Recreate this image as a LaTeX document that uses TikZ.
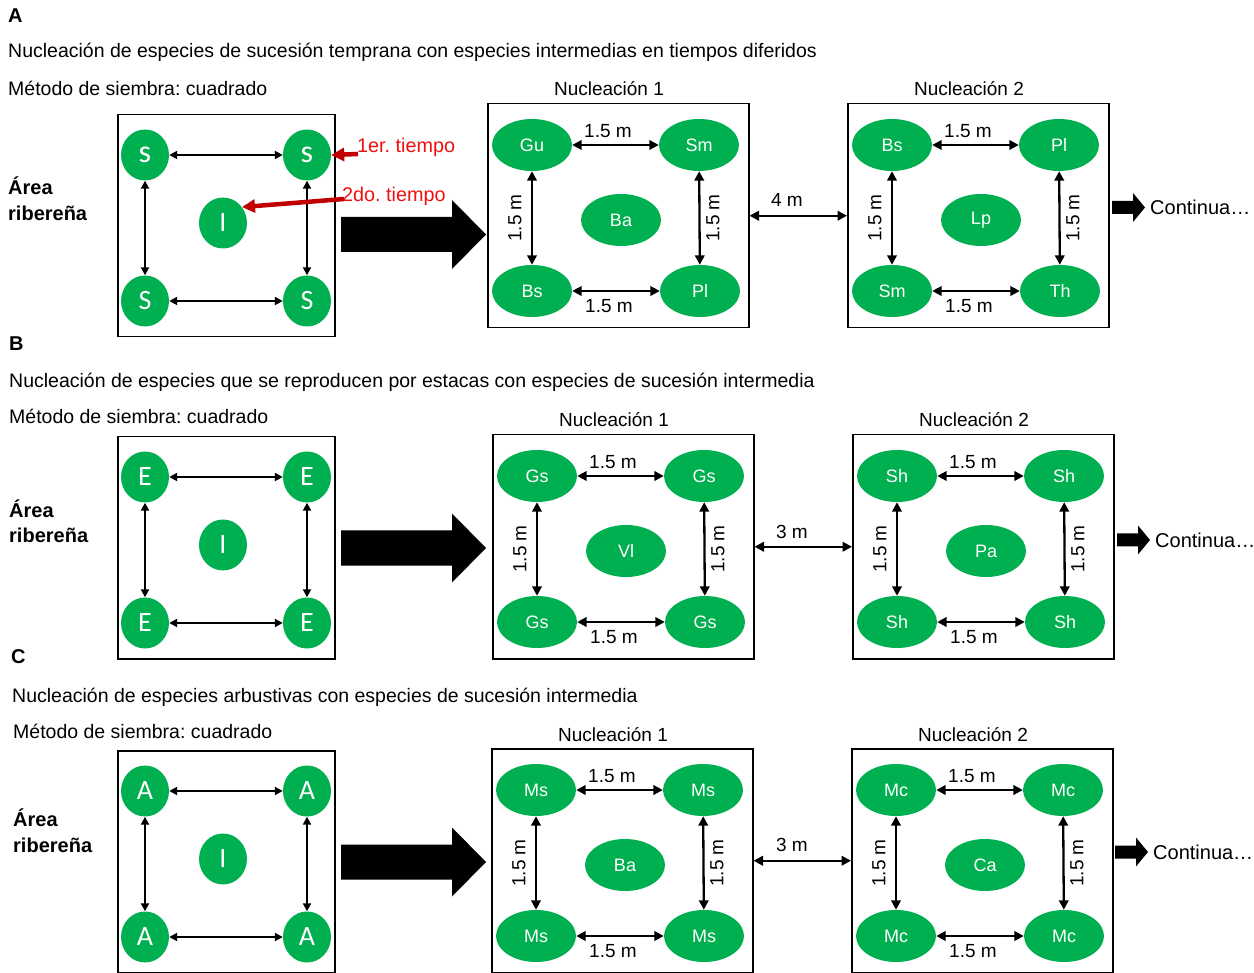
\documentclass[tikz,border=0pt]{standalone}
\usepackage{fontspec}
\setmainfont{Liberation Sans}
\newfontfamily\carl{Carlito}
\usetikzlibrary{shapes.geometric,arrows.meta}
\frenchspacing
\definecolor{grn}{HTML}{00B050}
\definecolor{darkred}{HTML}{C00000}
\definecolor{txtred}{HTML}{F01010}
\tikzset{
  circnode/.style={ellipse, fill=grn, minimum width=48pt, minimum height=51pt, inner sep=0pt, text=white, font=\carl\fontsize{28}{28}\selectfont},
  ellnode/.style={ellipse, fill=grn, minimum width=80pt, minimum height=52pt, inner sep=0pt, text=white, font=\fontsize{18}{18}\selectfont},
  boxnode/.style={draw, line width=1.5pt, inner sep=0pt},
  dimarrow/.style={{Triangle[length=9.5pt,width=9.5pt]}-{Triangle[length=9.5pt,width=9.5pt]}, line width=2.3pt},
  thinarrow/.style={{Triangle[length=8pt,width=8pt]}-{Triangle[length=8pt,width=8pt]}, line width=1.9pt},
  redarrow/.style={-{Triangle[length=13pt,width=13pt]}, line width=4.5pt, darkred},
  lbl/.style={font=\fontsize{19}{19}\selectfont, inner sep=0pt},
  txt/.style={font=\fontsize{19.5}{19.5}\selectfont, inner sep=0pt, anchor=base west},
  boldtxt/.style={font=\bfseries\fontsize{20}{20}\selectfont, inner sep=0pt, anchor=base west},
  redtxt/.style={font=\fontsize{19.8}{19.8}\selectfont, inner sep=0pt, anchor=west, text=txtred},
  conttxt/.style={font=\fontsize{20}{20}\selectfont, inner sep=0pt, anchor=west},
}
% nucleation box: #1 prefix, #2 x0, #3 y0, #4 TL, #5 TR, #6 BL, #7 BR, #8 centre, #9 title
\newcommand{\nucleo}[9]{%
  \node[boxnode, anchor=north west, minimum width=261pt, minimum height=224pt] (#1box) at (#2,#3) {};
  \node[lbl, anchor=base] (#1title) at ({#2+122},{#3-7}) {#9};
  \node[ellnode] (#1TL) at ({#2+45},{#3+42}) {#4};
  \node[ellnode] (#1TR) at ({#2+212},{#3+42}) {#5};
  \node[ellnode] (#1BL) at ({#2+45},{#3+188}) {#6};
  \node[ellnode] (#1BR) at ({#2+213},{#3+188}) {#7};
  \node[ellnode] (#1C) at ({#2+134},{#3+117}) {#8};
  \draw[dimarrow] (#1TL) -- (#1TR);
  \draw[dimarrow] (#1BL) -- (#1BR);
  \draw[dimarrow] (#1TL) -- (#1BL);
  \draw[dimarrow] (#1TR) -- (#1BR);
  \node[lbl] (#1lt) at ({#2+121},{#3+28}) {1.5 m};
  \node[lbl] (#1lb) at ({#2+122},{#3+203}) {1.5 m};
  \node[lbl, rotate=90] (#1ll) at ({#2+28},{#3+115}) {1.5 m};
  \node[lbl, rotate=90] (#1lr) at ({#2+226},{#3+115}) {1.5 m};
}
% planting square: #1 prefix, #2 x0, #3 y0, #4 top letter, #5 bottom letter
\newcommand{\siembra}[5]{%
  \node[boxnode, anchor=north west, minimum width=217pt, minimum height=222pt] (#1box) at (#2,#3) {};
  \node[circnode] (#1TL) at ({#2+28},{#3+41}) {#4};
  \node[circnode] (#1TR) at ({#2+190},{#3+41}) {#4};
  \node[circnode] (#1BL) at ({#2+28},{#3+187}) {#5};
  \node[circnode] (#1BR) at ({#2+190},{#3+187}) {#5};
  \node[circnode] (#1I) at ({#2+106},{#3+109}) {I};
  \draw[thinarrow] (#1TL) -- (#1TR);
  \draw[thinarrow] (#1BL) -- (#1BR);
  \draw[thinarrow] (#1TL) -- (#1BL);
  \draw[thinarrow] (#1TR) -- (#1BR);
}
\newcommand{\bigarrow}[1]{%
  \fill (341,{#1-17.5}) -- (452,{#1-17.5}) -- (452,{#1-34.5}) -- (486,#1) -- (452,{#1+34.5}) -- (452,{#1+17.5}) -- (341,{#1+17.5}) -- cycle;
}
\newcommand{\contarrow}[2]{%
  \fill (#1,{#2-6.5}) -- ({#1+21},{#2-6.5}) -- ({#1+21},{#2-14.5}) -- ({#1+33},#2) -- ({#1+21},{#2+14.5}) -- ({#1+21},{#2+6.5}) -- (#1,{#2+6.5}) -- cycle;
}
\begin{document}
\begin{tikzpicture}[x=1pt,y=-1pt]
\useasboundingbox (0,0) rectangle (1254,973);
\fill[white] (0,0) rectangle (1254,973);

% ---------------- Panel A ----------------
\node[boldtxt] (labA) at (8,23) {A};
\node[txt] (titA) at (8,58) {Nucleación de especies de sucesión temprana con especies intermedias en tiempos diferidos};
\node[txt] (metA) at (8,96) {Método de siembra: cuadrado};
\node[boldtxt] (arA1) at (8,195) {Área};
\node[boldtxt] (arA2) at (8,221) {ribereña};
\siembra{a}{117}{114}{{\fontsize{32}{32}\selectfont s}}{S}
\bigarrow{234.5}
\nucleo{pa}{487}{103}{Gu}{Sm}{Bs}{Pl}{Ba}{Nucleación 1}
\nucleo{qa}{847}{103}{Bs}{Pl}{Sm}{Th}{Lp}{Nucleación 2}
\draw[dimarrow] (pabox) -- (qabox);
\node[lbl] (gapA) at (787,200) {4 m};
\contarrow{1112}{207.5}
\node[conttxt] (contA) at (1150,207) {Continua…};
\node[redtxt] (t1) at (357,147) {1er. tiempo};
\node[redtxt] (t2) at (342,196) {2do. tiempo};
\coordinate (r1) at (358,154);
\coordinate (r2) at (344,199);
\draw[redarrow] (r1) -- (aTR.east);
\draw[redarrow] (r2) -- (aI.40);

% ---------------- Panel B ----------------
\node[boldtxt] (labB) at (9,351) {B};
\node[txt] (titB) at (9,388) {Nucleación de especies que se reproducen por estacas con especies de sucesión intermedia};
\node[txt] (metB) at (9,424) {Método de siembra: cuadrado};
\node[boldtxt] (arB1) at (9,518) {Área};
\node[boldtxt] (arB2) at (9,543) {ribereña};
\siembra{b}{117}{436}{E}{E}
\bigarrow{548}
\nucleo{pb}{492}{434}{Gs}{Gs}{Gs}{Gs}{Vl}{Nucleación 1}
\nucleo{qb}{852}{434}{Sh}{Sh}{Sh}{Sh}{Pa}{Nucleación 2}
\draw[dimarrow] (pbbox) -- (qbbox);
\node[lbl] (gapB) at (792,532) {3 m};
\contarrow{1117}{540}
\node[conttxt] (contB) at (1155,540) {Continua…};

% ---------------- Panel C ----------------
\node[boldtxt] (labC) at (11,663) {C};
\node[txt] (titC) at (12,702) {Nucleación de especies arbustivas con especies de sucesión intermedia};
\node[txt] (metC) at (13,738) {Método de siembra: cuadrado};
\node[boldtxt] (arC1) at (13,826) {Área};
\node[boldtxt] (arC2) at (13,852) {ribereña};
\siembra{c}{117}{750}{A}{A}
\bigarrow{862}
\nucleo{pc}{491}{748}{Ms}{Ms}{Ms}{Ms}{Ba}{Nucleación 1}
\nucleo{qc}{851}{748}{Mc}{Mc}{Mc}{Mc}{Ca}{Nucleación 2}
\draw[dimarrow] (pcbox) -- (qcbox);
\node[lbl] (gapC) at (792,845) {3 m};
\contarrow{1115}{852}
\node[conttxt] (contC) at (1153,852) {Continua…};
\end{tikzpicture}
\end{document}
